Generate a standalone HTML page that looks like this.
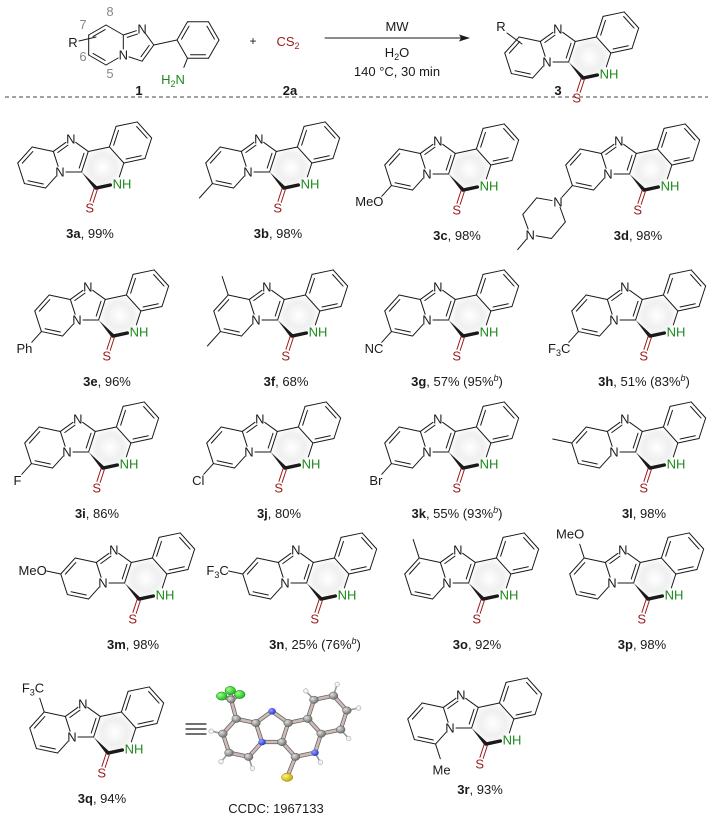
<!DOCTYPE html>
<html><head><meta charset="utf-8">
<style>
html,body{margin:0;padding:0;background:#fff;}
svg{display:block;}
text{font-family:"Liberation Sans",Arial,sans-serif;}
</style></head>
<body>
<svg id="s" width="713" height="821" viewBox="0 0 713 821" xmlns="http://www.w3.org/2000/svg">
<defs>
<radialGradient id="g" cx="0.5" cy="0.5" r="0.5">
<stop offset="0" stop-color="#ffffff"/>
<stop offset="0.6" stop-color="#f0f0f0"/>
<stop offset="1" stop-color="#e6e6e6" stop-opacity="0"/>
</radialGradient>
<radialGradient id="ball" cx="0.35" cy="0.35" r="0.7">
<stop offset="0" stop-color="#e0e0e0"/><stop offset="1" stop-color="#6a6a6a"/>
</radialGradient>
<radialGradient id="nball" cx="0.35" cy="0.35" r="0.7">
<stop offset="0" stop-color="#9aa0ff"/><stop offset="1" stop-color="#2230d0"/>
</radialGradient>
<radialGradient id="fball" cx="0.35" cy="0.35" r="0.7">
<stop offset="0" stop-color="#9dff8a"/><stop offset="1" stop-color="#14b814"/>
</radialGradient>
<radialGradient id="sball" cx="0.35" cy="0.35" r="0.7">
<stop offset="0" stop-color="#fff27a"/><stop offset="1" stop-color="#c8a800"/>
</radialGradient>
</defs>
<g id="root"></g>
</svg>
<script>
var out=[];
var K="#1a1a1a",GR="#1b8a1b",RD="#9b1b1b";
var SC=1.08;
function f(n){return Math.round(n*100)/100;}
function ln(a,b,w,c){out.push('<line x1="'+f(a[0])+'" y1="'+f(a[1])+'" x2="'+f(b[0])+'" y2="'+f(b[1])+'" stroke="'+(c||K)+'" stroke-width="'+(w||1)+'" stroke-linecap="round"/>');}
function sh(a,b,da,db){var dx=b[0]-a[0],dy=b[1]-a[1],l=Math.hypot(dx,dy);return [[a[0]+dx/l*da,a[1]+dy/l*da],[b[0]-dx/l*db,b[1]-dy/l*db]];}
function bond(a,b,da,db,w,c){var p=sh(a,b,da||0,db||0);ln(p[0],p[1],w,c);}
function inner(a,b,c,s1,s2){var mx=(a[0]+b[0])/2,my=(a[1]+b[1])/2;var nx=c[0]-mx,ny=c[1]-my,l=Math.hypot(nx,ny);nx=nx/l*3.5;ny=ny/l*3.5;var p=sh(a,b,s1==null?3:s1,s2==null?3:s2);ln([p[0][0]+nx,p[0][1]+ny],[p[1][0]+nx,p[1][1]+ny]);}
function txt(x,y,s,o){o=o||{};out.push('<text x="'+f(x)+'" y="'+f(y)+'" font-size="'+(o.fs||13)+'" fill="'+(o.c||K)+'" text-anchor="'+(o.a||'middle')+'"'+(o.w?' font-weight="bold"':'')+'>'+s+'</text>');}
function pol(c,r,deg){var a=deg*Math.PI/180;return [c[0]+r*Math.cos(a),c[1]+r*Math.sin(a)];}

function geo(ox,oy,s){
  s=s||1;
  function T(p){return [ox+p[0]*s,oy+p[1]*s];}
  var g={};
  g.N4=T([0,0]);g.C3=T([20,0]);g.C2=T([26.18,-19.02]);g.N1=T([10,-30.78]);g.C8a=T([-6.18,-19.02]);
  g.pc=T([10,-13.77]);
  var py=[-19.56,-4.16],ce=[39.56,-4.16],bz=[65.3,-27.34];
  g.py=T(py);g.ce=T(ce);g.bz=T(bz);
  g.C5=T(pol(py,20,72));g.C6=T(pol(py,20,132));g.C7=T(pol(py,20,192));g.C8=T(pol(py,20,252));
  g.Ca=T(pol(ce,20,-72));g.Cb=T(pol(ce,20,-12));g.NH=T(pol(ce,20,48));g.CS=T(pol(ce,20,108));
  g.b1=T(pol(bz,20,48));g.b2=T(pol(bz,20,-12));g.b3=T(pol(bz,20,-72));g.b4=T(pol(bz,20,-132));
  var cs=pol(ce,20,108);g.S=T([cs[0]-6.18*0.95,cs[1]+19.02*0.95]);
  g.dir={C5:72,C6:132,C7:192,C8:252};
  return g;
}

function mol(ox,oy,subs,label){
  var s=SC;
  var g=geo(ox,oy,s);
  out.push('<circle cx="'+f(g.ce[0])+'" cy="'+f(g.ce[1])+'" r="'+(19*s)+'" fill="url(#g)"/>');
  bond(g.C8a,g.N1,0,6);bond(g.N1,g.C2,6,0);bond(g.C2,g.C3);bond(g.C3,g.N4,0,6);bond(g.N4,g.C8a,6,0);
  inner(g.C8a,g.N1,g.pc,3,6);inner(g.C2,g.C3,g.pc);
  bond(g.N4,g.C5,6,0);bond(g.C5,g.C6);bond(g.C6,g.C7);bond(g.C7,g.C8);bond(g.C8,g.C8a);
  inner(g.C5,g.C6,g.py);inner(g.C7,g.C8,g.py);
  bond(g.C2,g.Ca);bond(g.Ca,g.Cb);bond(g.Cb,g.NH,0,7);
  var p=sh(g.CS,g.NH,0,7);ln(p[0],p[1],3.4);
  var dx=g.CS[0]-g.C3[0],dy=g.CS[1]-g.C3[1],l=Math.hypot(dx,dy),nx=-dy/l,ny=dx/l;
  out.push('<polygon points="'+f(g.C3[0])+','+f(g.C3[1])+' '+f(g.CS[0]+nx*1.9)+','+f(g.CS[1]+ny*1.9)+' '+f(g.CS[0]-nx*1.9)+','+f(g.CS[1]-ny*1.9)+'" fill="'+K+'"/>');
  bond(g.Cb,g.b1);bond(g.b1,g.b2);bond(g.b2,g.b3);bond(g.b3,g.b4);bond(g.b4,g.Ca);
  inner(g.Cb,g.b1,g.bz);inner(g.b2,g.b3,g.bz);inner(g.b4,g.Ca,g.bz);
  var q=sh(g.CS,g.S,1,6);dx=q[1][0]-q[0][0];dy=q[1][1]-q[0][1];l=Math.hypot(dx,dy);nx=-dy/l*1.7;ny=dx/l*1.7;
  ln([q[0][0]+nx,q[0][1]+ny],[q[1][0]+nx,q[1][1]+ny],1,RD);ln([q[0][0]-nx,q[0][1]-ny],[q[1][0]-nx,q[1][1]-ny],1,RD);
  txt(g.N1[0],g.N1[1]+4.7,'N');txt(g.N4[0],g.N4[1]+4.7,'N');
  txt(g.NH[0]-4.6,g.NH[1]+4.7,'NH',{a:'start',c:GR});
  txt(g.S[0],g.S[1]+4.7,'S',{c:RD});
  (subs||[]).forEach(function(sb){
    var v=g[sb.at],d=g.dir[sb.at],e=pol(v,18*s,d);
    if(sb.t==='me'){bond(v,e);return;}
    if(sb.t==='pip'){pip(v,d,s);return;}
    bond(v,e,0,sb.gap==null?5:sb.gap);
    var o=sb.o||[0,0];
    txt(e[0]+o[0],e[1]+o[1],sb.s,{a:sb.a||'end'});
  });
  if(label) txt(ox+30,oy+66,label);
}
function pip(v,d,s){
  var N=pol(v,20*s,d);
  var c=pol(N,20*s,130);
  var vs=[];for(var i=0;i<6;i++)vs.push(pol(c,20*s,310+i*60));
  bond(v,N,0,6);
  for(var i=0;i<6;i++){var a=vs[i],b=vs[(i+1)%6];bond(a,b,(i==0||i==3)?6:0,(i==5||i==2)?6:0);}
  var N2=vs[3];var m=pol(N2,18*s,130);bond(N2,m,6,0);
  txt(N[0],N[1]+4.7,'N');txt(N2[0],N2[1]+4.7,'N');
}
function L(b,r){return '<tspan font-weight="bold">'+b+'</tspan>'+r;}
var SB='<tspan font-size="9" font-style="italic" dy="-5">b</tspan><tspan dy="5">)</tspan>';
var F3C='F<tspan font-size="9" dy="3">3</tspan><tspan dy="-3">C</tspan>';

mol(60,172,[],L('3a',', 99%'));
mol(248,172,[{at:'C6',t:'me'}],L('3b',', 98%'));
mol(427,174,[{at:'C6',s:'MeO',o:[5,6]}],L('3c',', 98%'));
mol(608,174,[{at:'C6',t:'pip'}],L('3d',', 98%'));
mol(77,320,[{at:'C6',s:'Ph',o:[4,7]}],L('3e',', 96%'));
mol(256,320,[{at:'C6',t:'me'},{at:'C8',t:'me'}],L('3f',', 68%'));
mol(427,320,[{at:'C6',s:'NC',o:[5,7]}],L('3g',', 57% (95%'+SB));
mol(614,320,[{at:'C6',s:F3C,o:[5,7]}],L('3h',', 51% (83%'+SB));
mol(67,452,[{at:'C6',s:'F',o:[3,7]}],L('3i',', 86%'));
mol(249,452,[{at:'C6',s:'Cl',o:[4,7]}],L('3j',', 80%'));
mol(427,452,[{at:'C6',s:'Br',o:[4,7]}],L('3k',', 55% (93%'+SB));
mol(614,452,[{at:'C7',t:'me'}],L('3l',', 98%'));
mol(103,583,[{at:'C7',s:'MeO',o:[5,5]}],L('3m',', 98%'));
mol(285,583,[{at:'C7',s:F3C,o:[5,5]}],L('3n',', 25% (76%'+SB));
mol(447,583,[{at:'C8',t:'me'}],L('3o',', 92%'));
mol(612,583,[{at:'C8',s:'MeO',o:[6,-1]}],L('3p',', 98%'));
mol(72,737,[{at:'C8',s:F3C,o:[6,-1]}],L('3q',', 94%'));
mol(450,728,[{at:'C5',s:'Me',a:'middle',o:[0,12],gap:4}],L('3r',', 93%'));

ln([186,724],[206,724],1.2);ln([186,729],[206,729],1.2);ln([186,734],[206,734],1.2);

(function(){
  var g=geo(262,742,1.0);
  var CF=pol(g.C8,20,255);
  var bonds=[['C8a','N1'],['N1','C2'],['C2','C3'],['C3','N4'],['N4','C8a'],['N4','C5'],['C5','C6'],['C6','C7'],['C7','C8'],['C8','C8a'],['C2','Ca'],['Ca','Cb'],['Cb','NH'],['NH','CS'],['CS','C3'],['Cb','b1'],['b1','b2'],['b2','b3'],['b3','b4'],['b4','Ca']];
  var Sp=pol(g.CS,22,112);
  function sb(a,b){ln(a,b,4.2,'#6e6664');ln(a,b,2.6,'#cbbcb8');}
  bonds.forEach(function(b){sb(g[b[0]],g[b[1]]);});
  sb(g.C8,CF);sb(g.CS,Sp);
  var Fs=[pol(CF,10,200),pol(CF,9,265),pol(CF,10,330)];
  Fs.forEach(function(p){sb(CF,p);});
  var Hs=[[g.C7,pol(g.C7,12,192)],[g.C6,pol(g.C6,12,132)],[g.C5,pol(g.C5,12,72)],[g.b1,pol(g.b1,12,48)],[g.b2,pol(g.b2,12,-12)],[g.b3,pol(g.b3,12,-72)],[g.b4,pol(g.b4,12,-132)],[g.NH,pol(g.NH,11,60)]];
  Hs.forEach(function(h){ln(h[0],h[1],1.6,'#999');out.push('<circle cx="'+f(h[1][0])+'" cy="'+f(h[1][1])+'" r="2.3" fill="#f2f2f2" stroke="#aaa" stroke-width="0.6"/>');});
  ['C8a','C2','C3','C5','C6','C7','C8','Ca','Cb','CS','b1','b2','b3','b4'].forEach(function(k){
    out.push('<ellipse cx="'+f(g[k][0])+'" cy="'+f(g[k][1])+'" rx="4.4" ry="3.7" fill="url(#ball)" stroke="#555" stroke-width="0.5"/>');});
  out.push('<ellipse cx="'+f(CF[0])+'" cy="'+f(CF[1])+'" rx="4.2" ry="3.6" fill="url(#ball)" stroke="#555" stroke-width="0.5"/>');
  ['N1','N4','NH'].forEach(function(k){out.push('<ellipse cx="'+f(g[k][0])+'" cy="'+f(g[k][1])+'" rx="3.8" ry="3.3" fill="url(#nball)"/>');});
  Fs.forEach(function(p){out.push('<ellipse cx="'+f(p[0])+'" cy="'+f(p[1])+'" rx="5.3" ry="4.1" fill="url(#fball)" stroke="#0a7a0a" stroke-width="0.5"/>');});
  out.push('<ellipse cx="'+f(Sp[0])+'" cy="'+f(Sp[1])+'" rx="5.6" ry="4.1" fill="url(#sball)" stroke="#8a7400" stroke-width="0.5"/>');
})();
txt(276,813,'CCDC: 1967133');

out.push('<line x1="5" y1="97" x2="708" y2="97" stroke="#444" stroke-width="1" stroke-dasharray="4,3"/>');
(function(){
  var c=[106,45],v=[];for(var i=0;i<6;i++)v.push(pol(c,20,-90+60*i));
  var C8a=v[1],N4=v[2];
  var pc=[136.8,45],R5=17.01;
  var N1=pol(pc,R5,-72),C2=pol(pc,R5,0),C3=pol(pc,R5,72);
  bond(v[0],v[1]);bond(v[1],N1,0,6);bond(N1,C2,6,0);bond(C2,C3);bond(C3,N4,0,6);bond(N4,C8a,6,0);
  bond(N4,v[3],6,0);bond(v[3],v[4]);bond(v[4],v[5]);bond(v[5],v[0]);
  inner(v[5],v[0],c);inner(v[3],v[4],c);inner(C8a,N1,pc,3,6);inner(C2,C3,pc);
  var bc=[198,40],b=[];for(var i=0;i<6;i++)b.push(pol(bc,21,180+60*i));
  bond(C2,b[0]);
  for(var i=0;i<6;i++)bond(b[i],b[(i+1)%6]);
  inner(b[0],b[1],bc);inner(b[2],b[3],bc);inner(b[4],b[5],bc);
  bond(b[5],[182,72],0,5);
  txt(N1[0],N1[1]+4.7,'N');txt(N4[0],N4[1]+4.7,'N');
  txt(173,84,'H<tspan font-size="9" dy="3">2</tspan><tspan dy="-3">N</tspan>',{c:GR});
  txt(73,47,'R');ln([79,41],[96,37]);
  txt(110,16,'8',{c:'#888'});txt(83,29,'7',{c:'#888'});txt(83,61,'6',{c:'#888'});txt(110,78,'5',{c:'#888'});
  txt(139,95,'1',{w:1});
})();
txt(253,45,'+',{fs:12});
txt(288,46,'CS<tspan font-size="9" dy="3">2</tspan>',{c:RD});
txt(290,95,'2a',{w:1});
ln([325,38],[462,38],1);
out.push('<polygon points="470,38 459,34.5 461,38 459,41.5" fill="'+K+'"/>');
txt(397,31,'MW');
txt(397,57,'H<tspan font-size="9" dy="3">2</tspan><tspan dy="-3">O</tspan>');
txt(397,76,'140 °C, 30 min');
(function(){
  mol(547,62,[],null);
  txt(501,31,'R');ln([507,33],[522,44]);
  txt(558,95,'3',{w:1});
})();

document.getElementById('root').innerHTML=out.join('');
</script>
</body></html>
